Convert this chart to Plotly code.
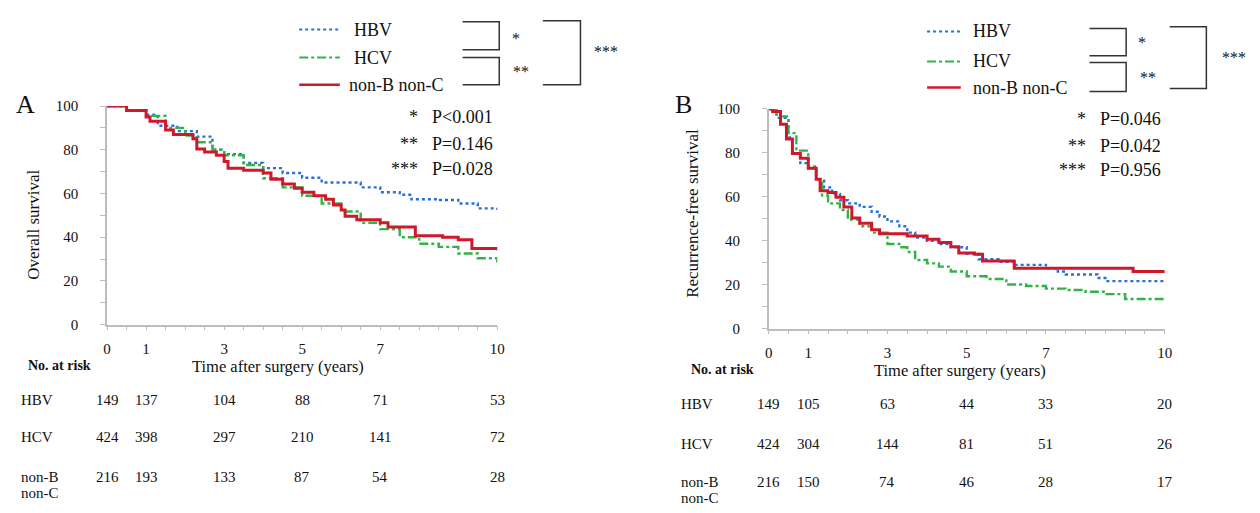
import plotly.graph_objects as go

REF_W, REF_H = 1260, 513
OFF = 8  # default page body margin
W, H = REF_W - 2 * OFF, REF_H - 2 * OFF
FONT = "Liberation Serif"

# ---------------- Data ----------------
# Panel A: overall survival (Kaplan-Meier step points: time in years, survival %)
os_hbv_t = [0, 0.5, 1.0, 1.3, 1.8, 2.3, 2.7, 3.0, 3.5, 4.0, 4.5, 5.0, 5.5, 6.0, 6.5, 7.0, 7.5, 7.8, 8.5, 9.0, 9.5, 10.0]
os_hbv_s = [100, 98, 96, 91, 88.5, 86, 80, 78, 74, 71.6, 69.4, 67.2, 65, 65, 62.8, 60.6, 59.4, 57.4, 57, 55.4, 53.2, 52.5]

os_hcv_t = [0, 0.5, 1.0, 1.5, 2.0, 2.3, 2.7, 3.0, 3.5, 4.0, 4.5, 5.0, 5.5, 6.0, 6.5, 7.0, 7.5, 8.0, 8.5, 9.0, 9.5, 10.0]
os_hcv_s = [100, 98, 95.5, 90, 86.5, 83.4, 80, 77.5, 73, 67, 62.8, 59, 55.4, 51.8, 46.6, 43.7, 40, 37, 35.6, 32.6, 30.4, 28.5]

os_nbnc_t = [0, 0.5, 1.0, 1.1, 1.5, 1.7, 2.2, 2.3, 2.5, 2.8, 3.0, 3.1, 3.5, 4.0, 4.2, 4.5, 4.8, 5.0, 5.3, 5.6, 5.8, 6.0, 6.1, 6.4, 7.0, 7.2, 7.9, 8.6, 9.0, 9.35, 10.0]
os_nbnc_s = [100, 98, 95, 93, 89, 87, 85, 80.4, 79, 77.5, 74.6, 71.6, 70.6, 69.4, 66.5, 64.3, 62.4, 60.6, 59, 57.4, 54.7, 52.5, 49.6, 48, 46.6, 44.7, 40.7, 40, 38.8, 34.8, 34.1]

# Panel B: recurrence-free survival
rfs_hbv_t = [0, 0.2, 0.5, 0.6, 0.8, 1.0, 1.2, 1.4, 1.6, 1.8, 2.0, 2.3, 2.6, 2.8, 3.0, 3.3, 3.5, 3.7, 4.0, 4.3, 4.6, 5.0, 5.3, 5.8, 6.2, 7.0, 7.3, 7.5, 8.3, 8.5, 10.0]
rfs_hbv_s = [100, 95.9, 87, 79.7, 75.3, 73, 68, 64.3, 61.3, 58.4, 57, 55.4, 53.2, 51, 48.8, 46.6, 43.7, 41.5, 40, 38.5, 37, 34.1, 31.6, 30.4, 29, 27.5, 26, 24.6, 23, 21.6, 21.6]

rfs_hcv_t = [0, 0.2, 0.5, 0.7, 1.0, 1.2, 1.35, 1.5, 1.8, 2.0, 2.3, 2.6, 3.0, 3.3, 3.5, 3.7, 4.0, 4.3, 4.6, 5.0, 5.5, 6.0, 6.5, 7.0, 7.5, 8.0, 8.5, 9.0, 10.0]
rfs_hcv_s = [100, 96.6, 89, 81, 73.8, 68, 60.6, 57, 54, 49.6, 46.6, 43.7, 38.5, 37, 34.9, 31.2, 29.7, 28.2, 26, 23.8, 22.6, 20.1, 19.4, 18.2, 17.6, 16.8, 15.7, 13.5, 13.5]

rfs_nbnc_t = [0, 0.1, 0.3, 0.45, 0.6, 0.8, 1.0, 1.2, 1.3, 1.5, 1.7, 1.9, 2.1, 2.3, 2.6, 2.8, 3.5, 4.0, 4.3, 4.6, 4.8, 5.2, 5.4, 6.2, 9.2, 10.0]
rfs_nbnc_s = [100, 98.8, 93, 86.3, 79.7, 77.5, 73, 68, 62.8, 62, 59.8, 55.4, 50.3, 48, 45, 43.2, 42.2, 40.7, 39.2, 37.3, 34.4, 33.8, 30.8, 27.5, 26, 26]

# Axis ticks
x_ticks = [0, 1, 3, 5, 7, 10]
y_ticks = [0, 20, 40, 60, 80, 100]

# Numbers at risk
risk_times = [0, 1, 3, 5, 7, 10]
groups = [["HBV"], ["HCV"], ["non-B", "non-C"]]
risk_os_hbv = [149, 137, 104, 88, 71, 53]
risk_os_hcv = [424, 398, 297, 210, 141, 72]
risk_os_nbnc = [216, 193, 133, 87, 54, 28]
risk_rfs_hbv = [149, 105, 63, 44, 33, 20]
risk_rfs_hcv = [424, 304, 144, 81, 51, 26]
risk_rfs_nbnc = [216, 150, 74, 46, 28, 17]

pvals_os = [("*", "P<0.001"), ("**", "P=0.146"), ("***", "P=0.028")]
pvals_rfs = [("*", "P=0.046"), ("**", "P=0.042"), ("***", "P=0.956")]

# ---------------- Styles ----------------
C_HBV = "#2a6fd6"
C_HCV = "#33b24a"
C_NBNC = "#d0182c"
AX = "#bdbdbd"
TXT = "#111111"


def px(x):
    return (x - OFF) / W


def py(y):
    return 1 - (y - OFF) / H


fig = go.Figure()

series = [
    ("x", "y", os_hbv_t, os_hbv_s, C_HBV, "dot", 2.4),
    ("x", "y", os_hcv_t, os_hcv_s, C_HCV, "dashdot", 2.4),
    ("x", "y", os_nbnc_t, os_nbnc_s, C_NBNC, "solid", 3),
    ("x2", "y2", rfs_hbv_t, rfs_hbv_s, C_HBV, "dot", 2.4),
    ("x2", "y2", rfs_hcv_t, rfs_hcv_s, C_HCV, "dashdot", 2.4),
    ("x2", "y2", rfs_nbnc_t, rfs_nbnc_s, C_NBNC, "solid", 3),
]
for xa, ya, t, s, c, d, w in series:
    fig.add_trace(go.Scatter(x=t, y=s, xaxis=xa, yaxis=ya, mode="lines",
                             line=dict(color=c, dash=d, width=w, shape="hv"),
                             showlegend=False, hoverinfo="skip"))


def xaxis_cfg(l, r):
    return dict(domain=[px(l), px(r)], range=[0, 10], tickvals=x_ticks,
                showline=True, linecolor=AX, linewidth=1.5, ticks="outside",
                ticklen=4, tickcolor=AX, tickwidth=1.2, showgrid=False, zeroline=False,
                tickfont=dict(family=FONT, size=15, color=TXT), ticklabelstandoff=6,
                minor=dict(dtick=0.5, tick0=0, ticks="outside", ticklen=4, tickcolor=AX, tickwidth=1.2))


def yaxis_cfg(top, bot, anchor):
    return dict(domain=[py(bot), py(top)], range=[0, 100], tickvals=y_ticks, anchor=anchor,
                showline=True, linecolor=AX, linewidth=1.5, ticks="outside",
                ticklen=5, tickcolor=AX, tickwidth=1.2, showgrid=False, zeroline=False,
                tickfont=dict(family=FONT, size=15, color=TXT), ticklabelstandoff=19,
                minor=dict(dtick=10, ticks="outside", ticklen=5, tickcolor=AX, tickwidth=1.2))


fig.update_layout(
    width=W, height=H, margin=dict(l=0, r=0, t=0, b=0),
    paper_bgcolor="white", plot_bgcolor="white",
    xaxis=dict(xaxis_cfg(104, 498), anchor="y"),
    yaxis=yaxis_cfg(101, 327, "x"),
    xaxis2=dict(xaxis_cfg(772, 1172), anchor="y2"),
    yaxis2=yaxis_cfg(104, 331, "x2"),
    showlegend=False,
)

ann = []
shapes = []


def text(x, y, s, size, xanchor="center", bold=False, angle=0, xref="paper", color=TXT):
    ann.append(dict(x=x if xref != "paper" else px(x), y=py(y), xref=xref, yref="paper",
                    text=f"<b>{s}</b>" if bold else s, showarrow=False,
                    xanchor=xanchor, yanchor="middle", textangle=angle,
                    font=dict(family=FONT, size=size, color=color)))


# Panel letters
text(22, 99, "A", 26)
text(686, 99, "B", 26)

# Axis titles
text(277, 370, "Time after surgery (years)", 16.5)
text(965, 374, "Time after surgery (years)", 16.5)
text(29, 224, "Overall survival", 17, angle=-90)
text(695, 212, "Recurrence-free survival", 17, angle=-90)

# P-values
for i, (st, p) in enumerate(pvals_os):
    yy = [112, 140, 166][i]
    text(420, yy, st, 18, xanchor="right")
    text(430, yy, p, 18, xanchor="left")
for i, (st, p) in enumerate(pvals_rfs):
    yy = [114, 142, 167][i]
    text(1094, yy, st, 18, xanchor="right")
    text(1105, yy, p, 18, xanchor="left")

# Risk tables
text(22, 369, "No. at risk", 14, xanchor="left", bold=True)
text(692, 373, "No. at risk", 14, xanchor="left", bold=True)
rows_a = [405, 443, 484]
rows_b = [409, 450, 490]
for g, yy, vals in zip(groups, rows_a, [risk_os_hbv, risk_os_hcv, risk_os_nbnc]):
    for k, line in enumerate(g):
        text(15, yy + 17 * k, line, 15, xanchor="left")
    for t, v in zip(risk_times, vals):
        text(t, yy, str(v), 15, xref="x")
for g, yy, vals in zip(groups, rows_b, [risk_rfs_hbv, risk_rfs_hcv, risk_rfs_nbnc]):
    for k, line in enumerate(g):
        text(682, yy + 16 * k, line, 15, xanchor="left")
    for t, v in zip(risk_times, vals):
        text(t, yy, str(v), 15, xref="x2")

# Legends
legend_items = [("HBV", C_HBV, "dot", 2), ("HCV", C_HCV, "dashdot", 2), ("non-B non-C", C_NBNC, "solid", 2.5)]


def legend(x0, x1, ys, txs):
    for (name, c, d, w), yy, tx_ in zip(legend_items, ys, txs):
        shapes.append(dict(type="line", xref="paper", yref="paper", x0=px(x0), x1=px(x1),
                           y0=py(yy), y1=py(yy), line=dict(color=c, dash=d, width=w)))
        text(tx_, yy, name, 18, xanchor="left")


legend(298, 339, [22, 51, 79], [351, 351, 346])
legend(932, 966, [24, 55, 82], [976, 976, 976])


def bracket(xl, xr, yt, yb):
    path = f"M {px(xl)},{py(yt)} L {px(xr)},{py(yt)} L {px(xr)},{py(yb)} L {px(xl)},{py(yb)}"
    shapes.append(dict(type="path", xref="paper", yref="paper", path=path,
                       line=dict(color="#333333", width=1.5)))


bracket(463, 500, 14, 43)
bracket(463, 500, 51, 79)
bracket(544, 582, 13, 79)
text(517, 31, "*", 16)
text(522, 65, "**", 16)
text(608, 45, "***", 16)

bracket(1096, 1133, 21, 49)
bracket(1096, 1133, 56, 86)
bracket(1177, 1214, 19, 83)
text(1149, 35, "*", 16)
text(1155, 72, "**", 16)
text(1242, 51, "***", 16)

fig.update_layout(annotations=ann, shapes=shapes)
fig.write_html("out.html")
